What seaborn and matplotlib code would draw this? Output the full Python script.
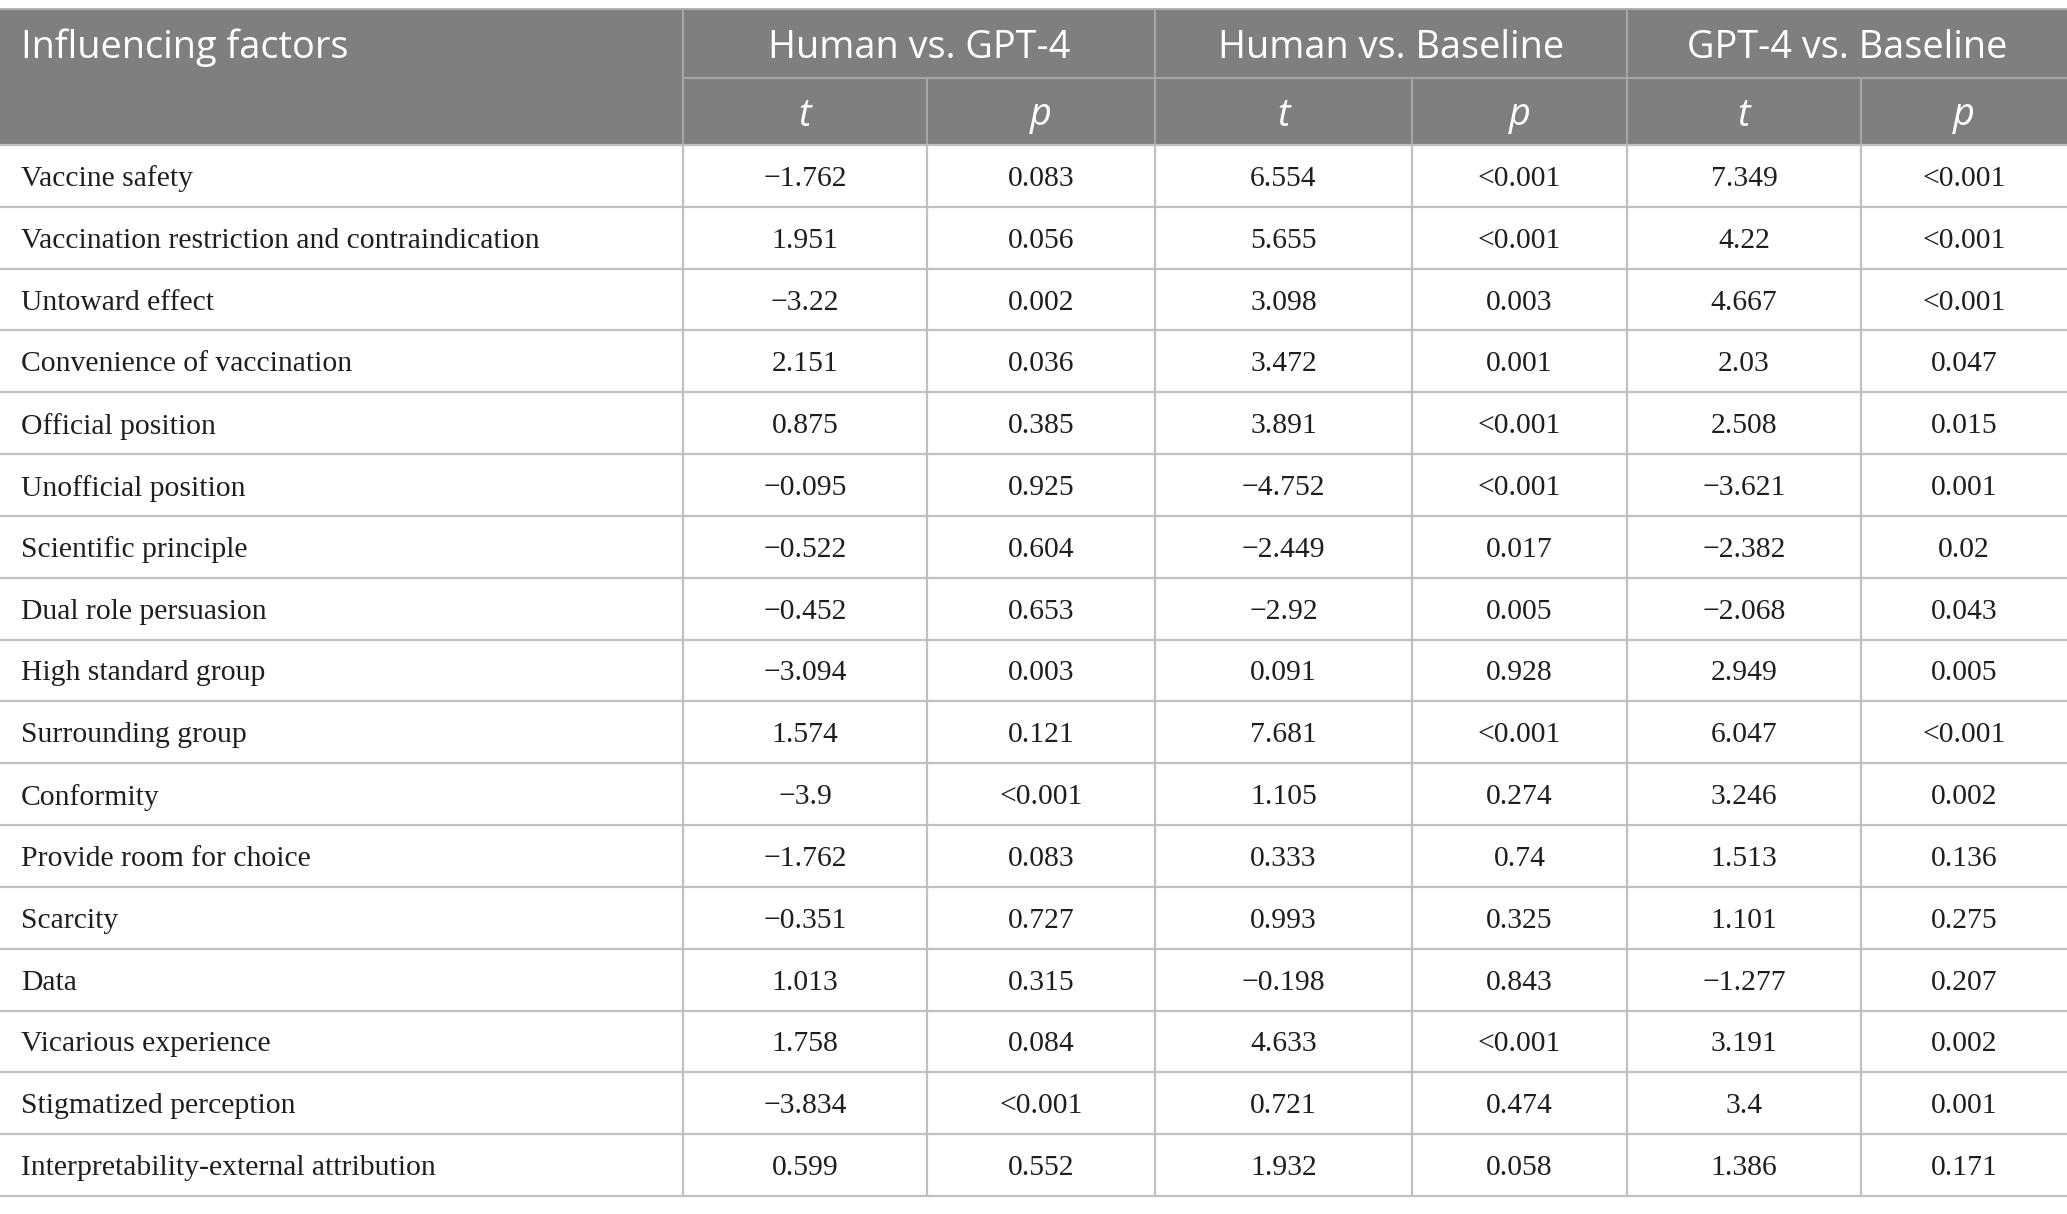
import matplotlib
matplotlib.use("Agg")
import matplotlib.pyplot as plt
import seaborn as sns
import pandas as pd

# ---------------- data ----------------
factors = [
    "Vaccine safety",
    "Vaccination restriction and contraindication",
    "Untoward effect",
    "Convenience of vaccination",
    "Official position",
    "Unofficial position",
    "Scientific principle",
    "Dual role persuasion",
    "High standard group",
    "Surrounding group",
    "Conformity",
    "Provide room for choice",
    "Scarcity",
    "Data",
    "Vicarious experience",
    "Stigmatized perception",
    "Interpretability-external attribution",
]
comparisons = ["Human vs. GPT-4", "Human vs. Baseline", "GPT-4 vs. Baseline"]
stat_labels = ["t", "p"]
first_header = "Influencing factors"

t_human_gpt4 = [-1.762, 1.951, -3.22, 2.151, 0.875, -0.095, -0.522, -0.452, -3.094,
                1.574, -3.9, -1.762, -0.351, 1.013, 1.758, -3.834, 0.599]
p_human_gpt4 = ["0.083", "0.056", "0.002", "0.036", "0.385", "0.925", "0.604", "0.653",
                "0.003", "0.121", "<0.001", "0.083", "0.727", "0.315", "0.084", "<0.001", "0.552"]
t_human_base = [6.554, 5.655, 3.098, 3.472, 3.891, -4.752, -2.449, -2.92, 0.091,
                7.681, 1.105, 0.333, 0.993, -0.198, 4.633, 0.721, 1.932]
p_human_base = ["<0.001", "<0.001", "0.003", "0.001", "<0.001", "<0.001", "0.017", "0.005",
                "0.928", "<0.001", "0.274", "0.74", "0.325", "0.843", "<0.001", "0.474", "0.058"]
t_gpt4_base = [7.349, 4.22, 4.667, 2.03, 2.508, -3.621, -2.382, -2.068, 2.949,
               6.047, 3.246, 1.513, 1.101, -1.277, 3.191, 3.4, 1.386]
p_gpt4_base = ["<0.001", "<0.001", "<0.001", "0.047", "0.015", "0.001", "0.02", "0.043",
               "0.005", "<0.001", "0.002", "0.136", "0.275", "0.207", "0.002", "0.001", "0.171"]


def fmt_t(v):
    return f"{v:g}".replace("-", "\u2212")


table = pd.DataFrame({
    "factor": factors,
    "t1": [fmt_t(v) for v in t_human_gpt4], "p1": p_human_gpt4,
    "t2": [fmt_t(v) for v in t_human_base], "p2": p_human_base,
    "t3": [fmt_t(v) for v in t_gpt4_base], "p3": p_gpt4_base,
})

# ---------------- layout / style ----------------
sns.set_theme(style="white")
W, H, DPI = 2067, 1214, 100
col_edges = [0, 683, 927, 1155, 1412, 1627, 1861, 2067]
top, mid, head_bottom, bottom = 9, 78, 145, 1196
header_color = "#7f7f7f"
header_line = "#a6a6a6"
grid_color = "#c0c0c0"
text_color = "#1e1e1e"
head_font = ["Open Sans", "DejaVu Sans"]
body_font = ["Liberation Serif", "DejaVu Serif"]
head_size = 27.3
body_size = 21.3

fig = plt.figure(figsize=(W / DPI, H / DPI), dpi=DPI)
fig.patch.set_facecolor("white")
ax = fig.add_axes([0, 0, 1, 1])
ax.set_xlim(0, W)
ax.set_ylim(H, 0)
ax.axis("off")

n = len(factors)
row_h = (bottom - head_bottom) / n

# header background
ax.axhspan(top, head_bottom, xmin=0, xmax=1, color=header_color, lw=0, zorder=0)

# header lines
ax.hlines(top, 0, W, color="#b0b0b0", lw=1.5, zorder=2)
ax.hlines(mid, col_edges[1], W, color=header_line, lw=1.5, zorder=2)
for i, x in enumerate(col_edges[1:-1], start=1):
    if i % 2 == 1:
        ax.vlines(x, top, head_bottom, color=header_line, lw=1.5, zorder=2)
    else:
        ax.vlines(x, mid, head_bottom, color=header_line, lw=1.5, zorder=2)

# body lines
for r in range(n + 1):
    y = head_bottom + r * row_h
    ax.hlines(y, 0, W, color=grid_color, lw=1.6, zorder=2)
for x in col_edges[1:-1]:
    ax.vlines(x, head_bottom, bottom, color=grid_color, lw=1.6, zorder=2)

# header text
yh1 = (top + mid) / 2 + 4
yh2 = (mid + head_bottom) / 2 + 4
ax.text(21, yh1, first_header, ha="left", va="center",
        color="white", fontsize=head_size, family=head_font)
for k, name in enumerate(comparisons):
    xc = (col_edges[1 + 2 * k] + col_edges[3 + 2 * k]) / 2
    ax.text(xc, yh1, name, ha="center", va="center",
            color="white", fontsize=head_size, family=head_font)
    for j, s in enumerate(stat_labels):
        xs = (col_edges[1 + 2 * k + j] + col_edges[2 + 2 * k + j]) / 2
        ax.text(xs, yh2, s, ha="center", va="center",
                color="white", fontsize=head_size, family=head_font, style="italic")

# body text
cols = ["t1", "p1", "t2", "p2", "t3", "p3"]
for r in range(n):
    yc = head_bottom + (r + 0.5) * row_h + 3
    ax.text(21, yc, table.loc[r, "factor"], ha="left", va="center",
            color=text_color, fontsize=body_size, family=body_font)
    for c, key in enumerate(cols):
        xc = (col_edges[c + 1] + col_edges[c + 2]) / 2
        ax.text(xc, yc, table.loc[r, key], ha="center", va="center",
                color=text_color, fontsize=body_size, family=body_font)

fig.savefig("out.png", dpi=DPI, facecolor="white")
